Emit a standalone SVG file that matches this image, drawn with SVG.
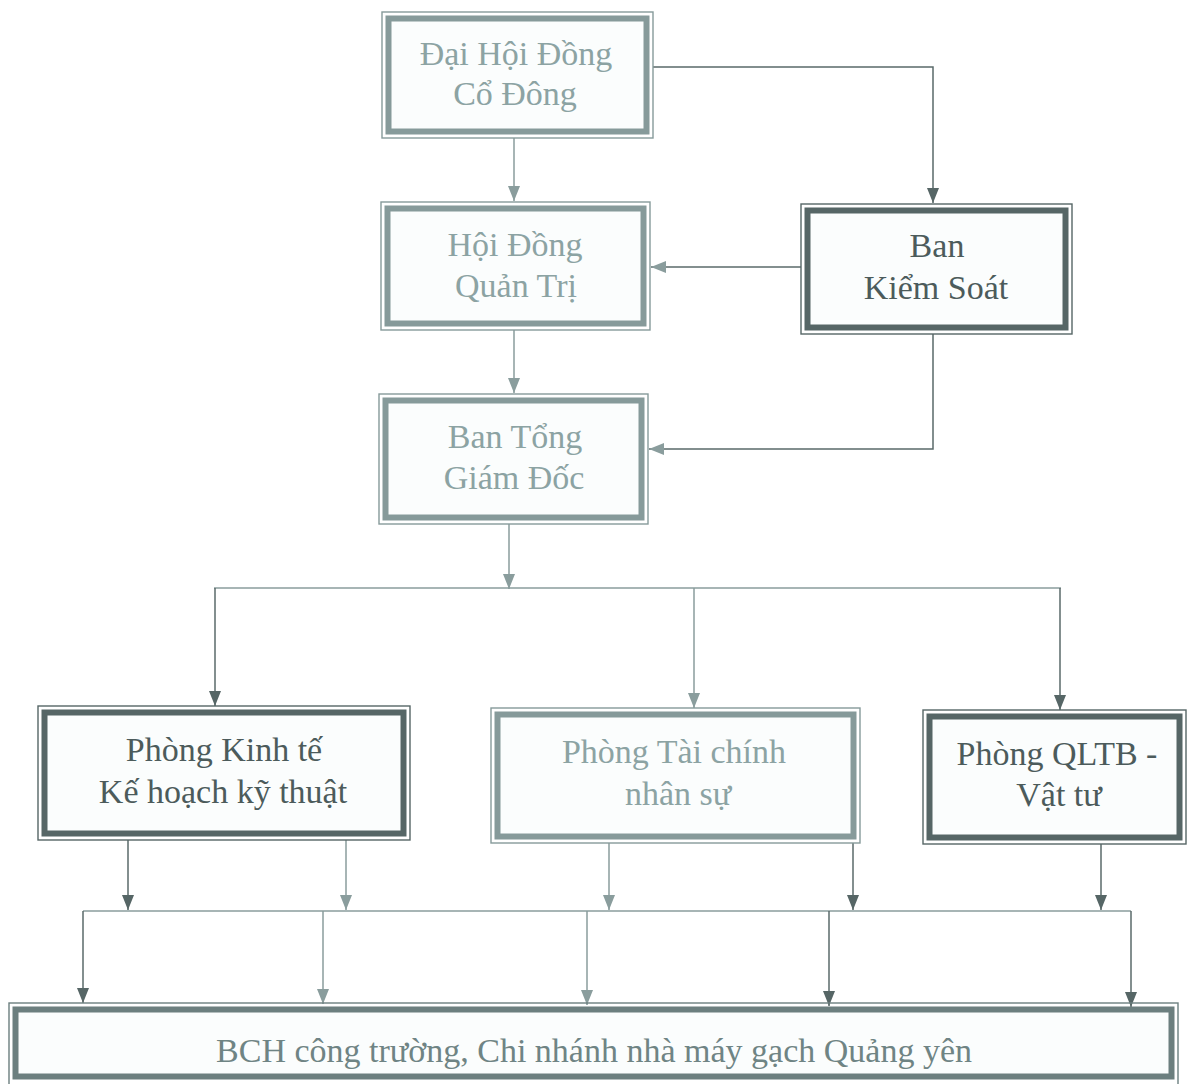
<svg xmlns="http://www.w3.org/2000/svg" width="1190" height="1084" viewBox="0 0 1190 1084">
<style>
  .thin{fill:none;stroke-width:1.4}
  .thick{fill:#fbfdfd;stroke-width:6}
  .lt .thin,.lt .thick{stroke:#869a9a}
  .dk .thin,.dk .thick{stroke:#566666}
  .md .thin,.md .thick{stroke:#6c7f7f}
  text{font-family:"Liberation Serif","Times New Roman",serif;font-size:34px;text-anchor:middle}
  .lt text{fill:#8ca3a3}
  .dk text{fill:#4c5b5b}
  .md text{fill:#6f8484}
  .c{fill:none;stroke-width:1.5}
  .cl{stroke:#8a9d9d}
  .cd{stroke:#5a6a6a}
</style>
<defs>
  <marker id="al" markerUnits="userSpaceOnUse" markerWidth="16" markerHeight="12" refX="15" refY="6" orient="auto">
    <path d="M0,0 L15,6 L0,12 Z" fill="#8a9d9d"/>
  </marker>
  <marker id="ad" markerUnits="userSpaceOnUse" markerWidth="16" markerHeight="12" refX="15" refY="6" orient="auto">
    <path d="M0,0 L15,6 L0,12 Z" fill="#566666"/>
  </marker>
</defs>
<rect width="1190" height="1084" fill="#ffffff"/>

<g id="connectors">
  <path class="c cd" d="M653,67 H933 V203" marker-end="url(#ad)"/>
  <path class="c cl" d="M514,138 V201" marker-end="url(#al)"/>
  <path class="c cd" d="M801,267 H651" marker-end="url(#al)"/>
  <path class="c cd" d="M933,334 V449 H649" marker-end="url(#al)"/>
  <path class="c cl" d="M514,330 V393" marker-end="url(#al)"/>
  <path class="c cl" d="M509,524 V589" marker-end="url(#al)"/>
  <path class="c cl" d="M214,588 H1061"/>
  <path class="c cd" d="M215,588 V706" marker-end="url(#ad)"/>
  <path class="c cl" d="M694,588 V708" marker-end="url(#al)"/>
  <path class="c cd" d="M1060,588 V710" marker-end="url(#ad)"/>
  <path class="c cd" d="M128,840 V910" marker-end="url(#ad)"/>
  <path class="c cl" d="M346,840 V910" marker-end="url(#al)"/>
  <path class="c cl" d="M609,843 V910" marker-end="url(#al)"/>
  <path class="c cd" d="M853,843 V910" marker-end="url(#ad)"/>
  <path class="c cd" d="M1101,844 V910" marker-end="url(#ad)"/>
  <path class="c cl" d="M83,911 H1131"/>
  <path class="c cd" d="M83,911 V1003" marker-end="url(#ad)"/>
  <path class="c cl" d="M323,911 V1004" marker-end="url(#al)"/>
  <path class="c cl" d="M587,911 V1005" marker-end="url(#al)"/>
  <path class="c cd" d="M829,911 V1006" marker-end="url(#ad)"/>
  <path class="c cd" d="M1131,911 V1007" marker-end="url(#ad)"/>
</g>

<g id="dai-hoi-dong" class="lt">
  <rect class="thin" x="382" y="12" width="271" height="126"/>
  <rect class="thick" x="388.5" y="18.5" width="258" height="113"/>
  <text x="516" y="65">Đại Hội Đồng</text>
  <text x="515" y="105">Cổ Đông</text>
</g>

<g id="hoi-dong-quan-tri" class="lt">
  <rect class="thin" x="381" y="202" width="269" height="128"/>
  <rect class="thick" x="387.5" y="208.5" width="256" height="115"/>
  <text x="515" y="256">Hội Đồng</text>
  <text x="516" y="297">Quản Trị</text>
</g>

<g id="ban-kiem-soat" class="dk">
  <rect class="thin" x="801" y="204" width="271" height="130"/>
  <rect class="thick" x="807.5" y="210.5" width="258" height="117"/>
  <text x="937" y="257">Ban</text>
  <text x="936" y="299">Kiểm Soát</text>
</g>

<g id="ban-tong-giam-doc" class="lt">
  <rect class="thin" x="379" y="394" width="269" height="130"/>
  <rect class="thick" x="385.5" y="400.5" width="256" height="117"/>
  <text x="515" y="448">Ban Tổng</text>
  <text x="514" y="489">Giám Đốc</text>
</g>

<g id="phong-kinh-te" class="dk">
  <rect class="thin" x="38" y="706" width="372" height="134"/>
  <rect class="thick" x="44.5" y="712.5" width="359" height="121"/>
  <text x="224" y="761">Phòng Kinh tế</text>
  <text x="223" y="803">Kế hoạch kỹ thuật</text>
</g>

<g id="phong-tai-chinh" class="lt">
  <rect class="thin" x="491" y="708" width="369" height="135"/>
  <rect class="thick" x="497.5" y="714.5" width="356" height="122"/>
  <text x="674" y="763">Phòng Tài chính</text>
  <text x="678" y="805">nhân sự</text>
</g>

<g id="phong-qltb" class="dk">
  <rect class="thin" x="923" y="710" width="263" height="134"/>
  <rect class="thick" x="929.5" y="716.5" width="250" height="121"/>
  <text x="1057" y="765">Phòng QLTB -</text>
  <text x="1059" y="806">Vật tư</text>
</g>

<g id="bch-cong-truong" class="md">
  <rect class="thin" x="9" y="1003" width="1169" height="90"/>
  <rect class="thick" x="15.5" y="1009.5" width="1156" height="67"/>
  <text x="594" y="1062">BCH công trường, Chi nhánh nhà máy gạch Quảng yên</text>
</g>
</svg>
